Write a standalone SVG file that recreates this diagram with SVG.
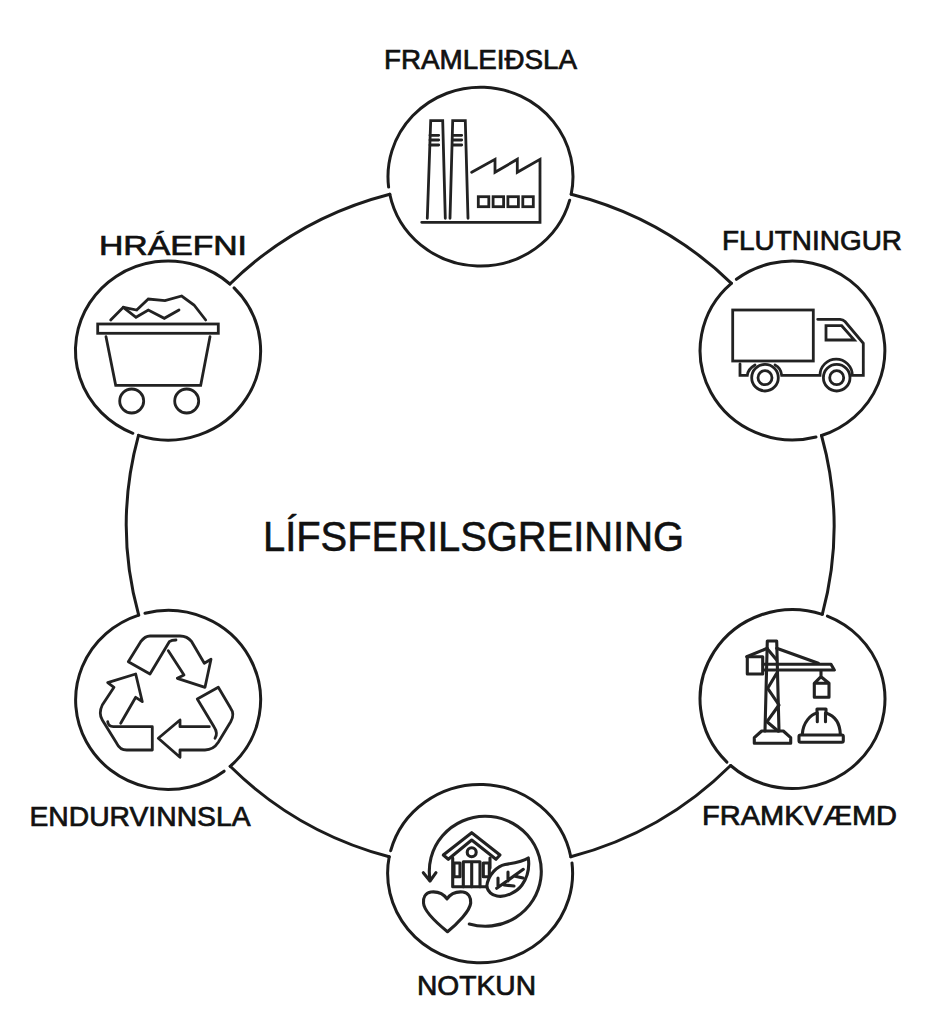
<svg xmlns="http://www.w3.org/2000/svg" width="935" height="1024" viewBox="0 0 935 1024">
<style>
.l{fill:none;stroke:#1c1c1c;stroke-width:3;stroke-linecap:round;stroke-linejoin:round}
.i{fill:none;stroke:#222;stroke-width:2.8;stroke-linecap:round;stroke-linejoin:miter}
.r{stroke-linejoin:round}
.t{stroke-width:3.1}
text{font-family:"Liberation Sans",Arial,sans-serif;fill:#111;stroke:#111;stroke-width:.7;font-size:27px}
</style>
<rect width="935" height="1024" fill="#fff"/>
<g id="connectors">
<path class="l" d="M389.800 194.200A353 345 0 0 0 229.900 284"/>
<path class="l" d="M571.200 194.200A353 345 0 0 1 731.400 283.300"/>
<path class="l" d="M821.500 435.500A353 345 0 0 1 822.300 614.300"/>
<path class="l" d="M730.600 765.500A353 345 0 0 1 570.800 856.800"/>
<path class="l" d="M389.200 856.800A353 345 0 0 1 230.200 766.300"/>
<path class="l" d="M138.700 615.100A353 345 0 0 1 138.500 435.400"/>
</g>
<g id="node-framleidsla">
<path class="l" d="M388.600 187A92.500 89.500 0 1 1 571.200 194.200"/>
<path class="l" d="M389.800 194.200A92.500 89.500 0 0 0 569.700 200.200"/>
<g class="i"><path d="M427.300 218.300L430.700 120.700H442.700L445.300 218.300"/>
<path d="M450 218.300L452.700 120.700H465.300L468 218.300"/>
<path d="M430 135.300H438.700M430 140H438.700M430 145H438.700M453.300 135.300H461.700M453.300 140H461.700M453.300 145H461.700"/>
<path d="M421.700 222.300H540V159.300L517.300 172.300V159.300L495 172.300V159.300L471.700 172.300"/>
<rect x="478.300" y="196.700" width="10.500" height="10"/><rect x="493.100" y="196.700" width="10.500" height="10"/><rect x="507.900" y="196.700" width="10.500" height="10"/><rect x="522.800" y="196.700" width="10.500" height="10"/></g>
<text x="384" y="69" textLength="193" lengthAdjust="spacingAndGlyphs">FRAMLEIÐSLA</text>
</g>
<g id="node-flutningur">
<path class="l" d="M736.400 279.300A92.500 89.500 0 1 1 821.500 435.500"/>
<path class="l" d="M816 437A92.500 89.500 0 0 1 731.400 283.300"/>
<g class="i"><rect x="732.700" y="310" width="80.600" height="51"/>
<path d="M817.700 319.300H840Q843 319.500 845 321.500L863.300 343.300V375.300H852.300A16 16 0 0 0 820 375.300H781.700Q781 368 775 365"/>
<path d="M755 365Q748 369 747.300 375.300H740V364"/>
<path d="M826 325.700H841.700L854.300 340H826Z"/>
<circle cx="765" cy="377.700" r="13.300"/><circle cx="765" cy="377.700" r="7"/><circle cx="836.700" cy="377.700" r="13.300"/><circle cx="836.700" cy="377.700" r="7"/></g>
<text x="722" y="250" textLength="180" lengthAdjust="spacingAndGlyphs">FLUTNINGUR</text>
</g>
<g id="node-framkvaemd">
<path class="l" d="M827.400 616.100A92.500 89.500 0 1 1 730.600 765.500"/>
<path class="l" d="M726.900 762.100A92.500 89.500 0 0 1 822.300 614.300"/>
<g class="i r t"><path d="M767.300 641L765 731M776.700 641L779 731M767.300 641H776.700"/>
<path d="M754.300 743.300V737.700L761.700 731H783.300L790.700 737.700V743.300Z"/>
<path d="M763.300 664.300H831L834.300 670H763.300"/>
<path d="M746.700 656.700L767.300 648.300M776.700 648.300L818.300 663.300"/>
<rect x="747.300" y="656.700" width="15.400" height="17.300"/>
<path d="M821 671V676.700L814.300 683.300H829L821 676.700M814.300 683.300V697.300H829V683.300"/>
<path d="M767.500 649L776.700 660M776.700 673.300L767.700 688.300L779 705L767 721.700L778 731"/>
<rect x="799" y="735" width="44.300" height="7.300" rx="1.500"/>
<path d="M802.300 734.300C803 722 811 714.500 817 713V709H826V713C835 716 840 724 840.300 734.300"/>
<path d="M817.300 713V721.700M825.500 713V721.700"/></g>
<text x="702" y="825" textLength="195" lengthAdjust="spacingAndGlyphs">FRAMKVÆMD</text>
</g>
<g id="node-notkun">
<path class="l" d="M390.700 850.700A92.500 89.500 0 0 1 570.800 856.800"/>
<path class="l" d="M572 863A92.500 89.500 0 1 1 389.200 856.800"/>
<g class="i r t"><path d="M469.300 924A56 55 0 1 0 430 880"/>
<path d="M423.300 872.700L430 881L436 872.700"/>
<path d="M443.300 855L471.700 832.700L500 855L496 859.300L471.700 840L448.300 859.300Z"/>
<circle cx="471.700" cy="852.300" r="4.500"/>
<path d="M452.700 858V886.700H487M490 858V868"/>
<path d="M463.300 886.700V861.700H480V886.700M471.700 861.700V886.700"/>
<path d="M454 863H460V876.700H454ZM483.300 863H489.300V876.700H483.300Z"/>
<path d="M486.700 886.700C488 874 498 866 505 864.500C515 863 524 861 528.300 858C530 870 527 878 522 885C517 892 505 898 497 896C491 895 488 891 486.700 886.700Z"/>
<path d="M496.700 888.300L523.300 869.300M498 878V887M508 872V881M514 886L504 885M523 878L514 876"/>
<path d="M447 899C443 893 436 891.500 431 892C425 893 423 898 423.500 903C424 911 438 924 447.500 931.700C457 924 470 911 470.700 903C471 898 469 893 463 892C458 891.500 451 893 447 899Z"/></g>
<text x="417" y="995" textLength="119" lengthAdjust="spacingAndGlyphs">NOTKUN</text>
</g>
<g id="node-endurvinnsla">
<path class="l" d="M145 613.300A92.500 89.500 0 0 1 230.200 766.300"/>
<path class="l" d="M224.100 771.200A92.500 89.500 0 1 1 138.700 615.100"/>
<g class="i r"><path d="M176 640Q171.700 640 169.300 641.700L150 674L128.300 661.700L140.700 641.700Q145 636 150 636H180Q187.300 636 191.700 641.700L204.300 663.300L211 659.300L205 687.300L177.300 678.300L184 675L168.300 650.700"/>
<path d="M209.300 726.700H180V720L158.300 738.300L180 757.300V750H205Q213.300 750 218.300 742.300L230.700 721.700Q235 714 230.700 708.300L218.300 687.300L197.300 699L214 726.700Q218.300 733.300 215 738.300"/>
<path d="M107.700 721.700Q108.300 726.700 113.300 726.700H152.300V750H126.700Q120 750 116.700 743.300L102.300 720Q98.300 713.300 102.300 705L114 687.300L107.700 682.700L135.700 674L142.300 701.700L135.700 697.300L120.700 723.300"/></g>
<text x="29.500" y="826" textLength="221" lengthAdjust="spacingAndGlyphs">ENDURVINNSLA</text>
</g>
<g id="node-hraefni">
<path class="l" d="M234.100 287.900A92.500 89.500 0 0 1 138.500 435.400"/>
<path class="l" d="M132.900 433.300A92.500 89.500 0 1 1 229.900 284"/>
<g class="i"><rect x="97.700" y="324" width="120.600" height="9.300"/>
<path d="M106 336.700L115.700 385.300H200.700L210 336.700"/>
<circle cx="131.700" cy="401" r="12"/><circle cx="186.700" cy="401" r="12"/>
<path d="M110.700 320L123.300 307.300L136.700 310L148.300 299L165 300.700L181.700 296L194 305L205.700 320"/>
<path d="M123.300 307.300L136 317.300L148.300 310L164.300 318.300L179 310"/></g>
<text x="99" y="255" textLength="148" lengthAdjust="spacingAndGlyphs">HRÁEFNI</text>
</g>
<text id="title" x="263" y="551" textLength="421" lengthAdjust="spacingAndGlyphs" style="font-size:43px;stroke-width:.6">LÍFSFERILSGREINING</text>
</svg>
